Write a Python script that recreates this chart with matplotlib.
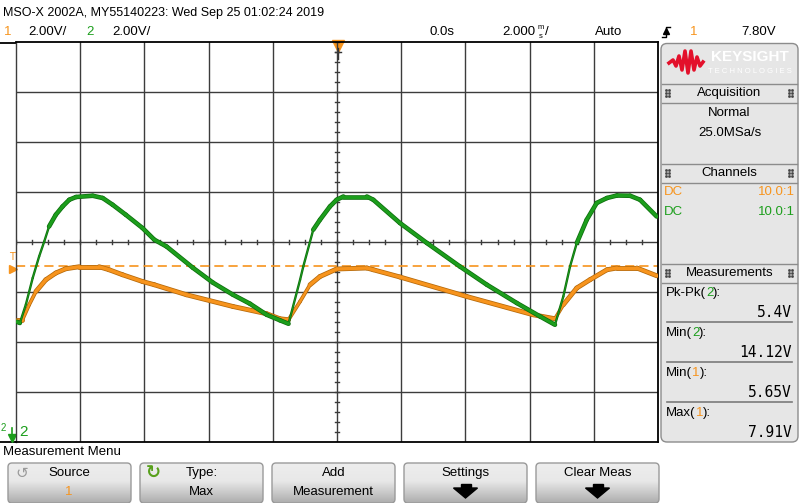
import numpy as np
import matplotlib.pyplot as plt
from matplotlib import font_manager
from matplotlib.collections import LineCollection
from matplotlib.patches import FancyBboxPatch, Polygon

names = {f.name for f in font_manager.fontManager.ttflist}
if 'Liberation Sans Narrow' in names:
    plt.rcParams['font.family'] = ['Liberation Sans Narrow', 'DejaVu Sans']
    fs = 11.5
else:
    plt.rcParams['font.family'] = ['Liberation Sans', 'DejaVu Sans']
    fs = 9.5

# scope settings
ms_per_div = 2.0
volts_per_div = 2.0
ch1_center = 8.76    # volts at screen centre, channel 1
ch2_center = 17.39   # volts at screen centre, channel 2
trig_level = 7.80

# channel 2 (green) trace, time in ms, volts
t_ch2 = [-9.97, -9.88, -9.69, -9.48, -9.28, -9.12, -8.97, -8.76, -8.55, -8.34,
         -8.13, -7.61, -7.30, -6.99, -6.58, -6.06, -5.69, -5.31,
         -4.49, -3.86, -3.24, -2.71, -2.19, -1.78, -1.51, -1.15, -1.05, -0.74,
         -0.53, -0.22, -0.01, 0.20, 0.93, 1.13, 1.96, 2.80, 3.83, 4.67,
         5.60, 6.33, 6.79, 7.05, 7.26, 7.47, 7.78, 8.09, 8.41, 8.72,
         9.13, 9.44, 9.96]
v_ch2 = [14.20, 14.15, 14.90, 15.95, 16.81, 17.41, 18.01, 18.48, 18.81, 19.08,
         19.19, 19.24, 19.15, 18.88, 18.48, 17.95, 17.48, 17.21,
         16.36, 15.76, 15.28, 14.92, 14.48, 14.26, 14.12, 15.88, 16.41, 17.88,
         18.28, 18.81, 19.08, 19.21, 19.21, 19.08, 18.15, 17.35, 16.41, 15.68,
         14.95, 14.41, 14.08, 15.21, 16.41, 17.35, 18.28, 18.95, 19.15, 19.25,
         19.24, 19.08, 18.41]

# channel 1 (orange) trace
t_ch1 = [-9.97, -9.80, -9.59, -9.38, -9.07, -8.76, -8.45, -8.03, -7.41, -7.10,
         -6.68, -6.06, -5.69, -4.69, -3.24, -2.19, -1.78, -1.51, -1.15, -0.84,
         -0.53, -0.01, 0.93, 1.13, 1.96, 4.04, 6.11, 6.79, 7.05, 7.47,
         7.88, 8.41, 8.72, 9.34, 9.96]
v_ch1 = [5.65, 5.65, 6.25, 6.78, 7.25, 7.52, 7.69, 7.77, 7.77, 7.65,
         7.45, 7.18, 7.05, 6.65, 6.18, 5.89, 5.69, 5.65, 6.38, 7.05,
         7.38, 7.68, 7.72, 7.65, 7.36, 6.58, 5.85, 5.69, 6.25, 6.92,
         7.25, 7.65, 7.72, 7.72, 7.41]

meas_names = ['Pk-Pk(', 'Min(', 'Min(', 'Max(']
meas_src = ['2', '2', '1', '1']
meas_vals = ['5.4V', '14.12V', '5.65V', '7.91V']
btn_top = ['Source', 'Type:', 'Add', 'Settings', 'Clear Meas']
btn_bot = ['1', 'Max', 'Measurement', '', '']

ORANGE = '#f7941d'
GREEN = '#1c9e1c'
GRID = '#3c3c3c'
PANEL = '#e6e6e6'

fig = plt.figure(figsize=(8, 5.03), dpi=100)
bg = fig.add_axes([0, 0, 1, 1])
bg.axis('off')

# ---- screen graticule ----
ax = fig.add_axes([16 / 800, (503 - 442) / 503, 642 / 800, 400 / 503])
ax.set_xlim(-5 * ms_per_div, 5 * ms_per_div)
ax.set_ylim(-4, 4)
ax.set_xticks([])
ax.set_yticks([])
ax.patch.set_alpha(0)
for s in ax.spines.values():
    s.set_color('black')
    s.set_linewidth(1.3)
ax.spines['left'].set_color(GRID)
ax.spines['left'].set_linewidth(1)
for i in range(-4, 5):
    ax.axvline(i * ms_per_div, color=GRID, lw=1)
for j in range(-3, 4):
    ax.axhline(j, color=GRID, lw=1)
for tt in np.arange(-10, 10.01, 0.5):
    ax.plot([tt, tt], [-0.045, 0.045], color=GRID, lw=1)
for dd in np.arange(-4, 4.01, 0.2):
    ax.plot([-0.07, 0.07], [dd, dd], color=GRID, lw=1)

ax.axhline((trig_level - ch1_center) / volts_per_div, color=ORANGE, lw=1.2,
           dashes=(5.5, 3))


def trace(t, v, center, col, edge, thin_slope, wide, narrow, z):
    t = np.array(t)
    y = (np.array(v) - center) / volts_per_div
    pts = np.column_stack([t, y])
    segs = np.stack([pts[:-1], pts[1:]], axis=1)
    slope = np.abs(np.diff(v) / np.diff(t))
    w = np.where(slope > thin_slope, narrow, wide)
    ax.add_collection(LineCollection(segs, colors=edge, linewidths=w + 1.1,
                                     capstyle='round', zorder=z))
    ax.add_collection(LineCollection(segs, colors=col, linewidths=w,
                                     capstyle='round', zorder=z + 0.1))


trace(t_ch1, v_ch1, ch1_center, ORANGE, '#b5690a', 1.8, 2.4, 1.6, 3)
trace(t_ch2, v_ch2, ch2_center, GREEN, '#0e6e0e', 3.0, 2.2, 0.6, 4)

# frame extensions to the left edge
bg.plot([0, 16], [42.5, 42.5], color='black', lw=1.3)
bg.plot([0, 16], [442, 442], color='black', lw=1.3)

# trigger markers
bg.plot(337.5, 45.5, marker='v', ms=8, color=ORANGE, mec=ORANGE)
bg.plot([337.5, 337.5], [48, 59], color='#333333', lw=1)
bg.plot([334.5, 340.5], [52, 52], color='#333333', lw=1)
bg.text(11.5, 257, 'T', color=ORANGE, fontsize=7, ha='center', va='center',
        family='DejaVu Sans')
bg.plot(12.5, 269, marker='>', ms=6, color=ORANGE, mec=ORANGE)

# ground marker channel 2
bg.plot([11.5, 11.5], [428, 436], color=GREEN, lw=1.2)
bg.plot(11.5, 437.5, marker='v', ms=6, color=GREEN, mec=GREEN)
bg.text(23, 432, '2', color=GREEN, fontsize=fs + 1.5, ha='center', va='center')
bg.text(3.5, 428, '2', color=GREEN, fontsize=7, ha='center', va='center')

# ---- header ----
bg.text(3, 13, 'MSO-X 2002A, MY55140223: Wed Sep 25 01:02:24 2019',
        fontsize=fs - 0.5, va='center', ha='left')
bg.text(8, 32, '1', color=ORANGE, fontsize=fs, va='center', ha='center')
bg.text(28, 32, '2.00V/', fontsize=fs, va='center')
bg.text(90, 32, '2', color=GREEN, fontsize=fs, va='center', ha='center')
bg.text(112, 32, '2.00V/', fontsize=fs, va='center')
bg.text(455, 32, '0.0s', fontsize=fs, va='center', ha='right')
bg.text(502, 32, '2.000', fontsize=fs, va='center')
bg.text(541, 27.5, 'm', fontsize=5.5, va='center', ha='center')
bg.text(541, 36.5, 's', fontsize=5.5, va='center', ha='center')
bg.text(545, 32, '/', fontsize=fs, va='center')
bg.text(595, 32, 'Auto', fontsize=fs, va='center')
bg.plot([662, 666, 666, 670], [37, 37, 27, 27], color='black', lw=1)
bg.plot(666, 31, marker='^', ms=4, color='black')
bg.text(694, 32, '1', color=ORANGE, fontsize=fs, va='center', ha='center')
bg.text(776, 32, '7.80V', fontsize=fs, va='center', ha='right')

# ---- right panel ----
bg.add_patch(FancyBboxPatch((661, 43.5), 137, 398.5,
                            boxstyle='round,pad=0,rounding_size=6',
                            fc=PANEL, ec='#8c8c8c', lw=1))
wx = [669, 673, 676, 679, 682, 685, 688, 691, 694, 697, 700, 703]
wy = [63, 60, 66, 56, 70, 51, 73, 51, 70, 57, 66, 62]
bg.plot(wx, wy, color='#e3102b', lw=2.6, solid_joinstyle='round')
bg.text(749.5, 57, 'KEYSIGHT', color='white', fontsize=11, weight='bold',
        ha='center', va='center', family='Liberation Sans')
bg.text(749.5, 71, 'T E C H N O L O G I E S', color='white', fontsize=5.5,
        ha='center', va='center', family='Liberation Sans')

for y in [83.5, 102.5, 163.5, 182.5, 263.5, 282.5]:
    bg.plot([662, 797], [y, y], color='#8c8c8c', lw=1)


def grip(x, y):
    for dx in (0, 3):
        for dy in (-3, 0, 3):
            bg.plot(x + dx, y + dy, 's', ms=0.9, color='#444444')


for title, y in [('Acquisition', 93), ('Channels', 173), ('Measurements', 273)]:
    bg.text(729.5, y, title, fontsize=fs, ha='center', va='center')
    grip(666, y)
    grip(789, y)

bg.text(729.5, 113, 'Normal', fontsize=fs, ha='center', va='center')
bg.text(729.5, 133, '25.0MSa/s', fontsize=fs, ha='center', va='center')
bg.text(664, 192, 'DC', color=ORANGE, fontsize=fs, va='center')
bg.text(795, 192, '10.0:1', color=ORANGE, fontsize=fs, va='center', ha='right')
bg.text(664, 212, 'DC', color=GREEN, fontsize=fs, va='center')
bg.text(795, 212, '10.0:1', color=GREEN, fontsize=fs, va='center', ha='right')

for k in range(4):
    y = 293 + 40 * k
    col = GREEN if meas_src[k] == '2' else ORANGE
    t1 = bg.text(666, y, meas_names[k], fontsize=fs, va='center')
    t2 = bg.annotate(meas_src[k], xycoords=t1, xy=(1, 0.5), va='center',
                     fontsize=fs, color=col)
    bg.annotate('):', xycoords=t2, xy=(1, 0.5), va='center', fontsize=fs)
    bg.text(792, y + 19.5, meas_vals[k], fontsize=10.5, va='center', ha='right',
            family='DejaVu Sans Mono')
    if k < 3:
        bg.plot([667, 792], [y + 29, y + 29], color='#7a7a7a', lw=1.2)

# ---- softkey menu ----
bg.text(3, 452, 'Measurement Menu', fontsize=fs, va='center')
grad = np.ones((60, 1, 3))
shade = np.interp(np.linspace(0, 1, 60), [0, 0.45, 1], [0.93, 0.91, 0.68])
grad *= shade[:, None, None]
for i in range(5):
    x0 = 8 + 132 * i
    box = FancyBboxPatch((x0, 463), 123, 40, boxstyle='round,pad=0,rounding_size=4',
                         fc='none', ec='#9a9a9a', lw=1)
    bg.add_patch(box)
    im = bg.imshow(grad, extent=(x0, x0 + 123, 503, 463), aspect='auto',
                   origin='upper', zorder=0.5)
    im.set_clip_path(box)
    cx = 69 if i == 0 else x0 + 61.5
    bg.text(cx, 473, btn_top[i], fontsize=fs, ha='center', va='center')
    if btn_bot[i]:
        bg.text(cx, 492, btn_bot[i], fontsize=fs, ha='center', va='center',
                color=ORANGE if btn_bot[i] == '1' else 'black')
    if i >= 3:
        bg.add_patch(Polygon([[cx - 12, 488], [cx + 12, 488], [cx, 498]],
                             closed=True, fc='black', ec='black'))
        bg.add_patch(Polygon([[cx - 5, 484], [cx + 5, 484], [cx + 5, 489],
                              [cx - 5, 489]], closed=True, fc='black', ec='black'))

bg.text(22, 473, '\u21ba', fontsize=11, color='#9a9a9a', ha='center',
        va='center', family='DejaVu Sans')
bg.text(153, 473, '\u21bb', fontsize=13, color='#58a01c', weight='bold',
        ha='center', va='center', family='DejaVu Sans')

bg.set_xlim(0, 800)
bg.set_ylim(503, 0)

fig.savefig('out.png', dpi=100)
